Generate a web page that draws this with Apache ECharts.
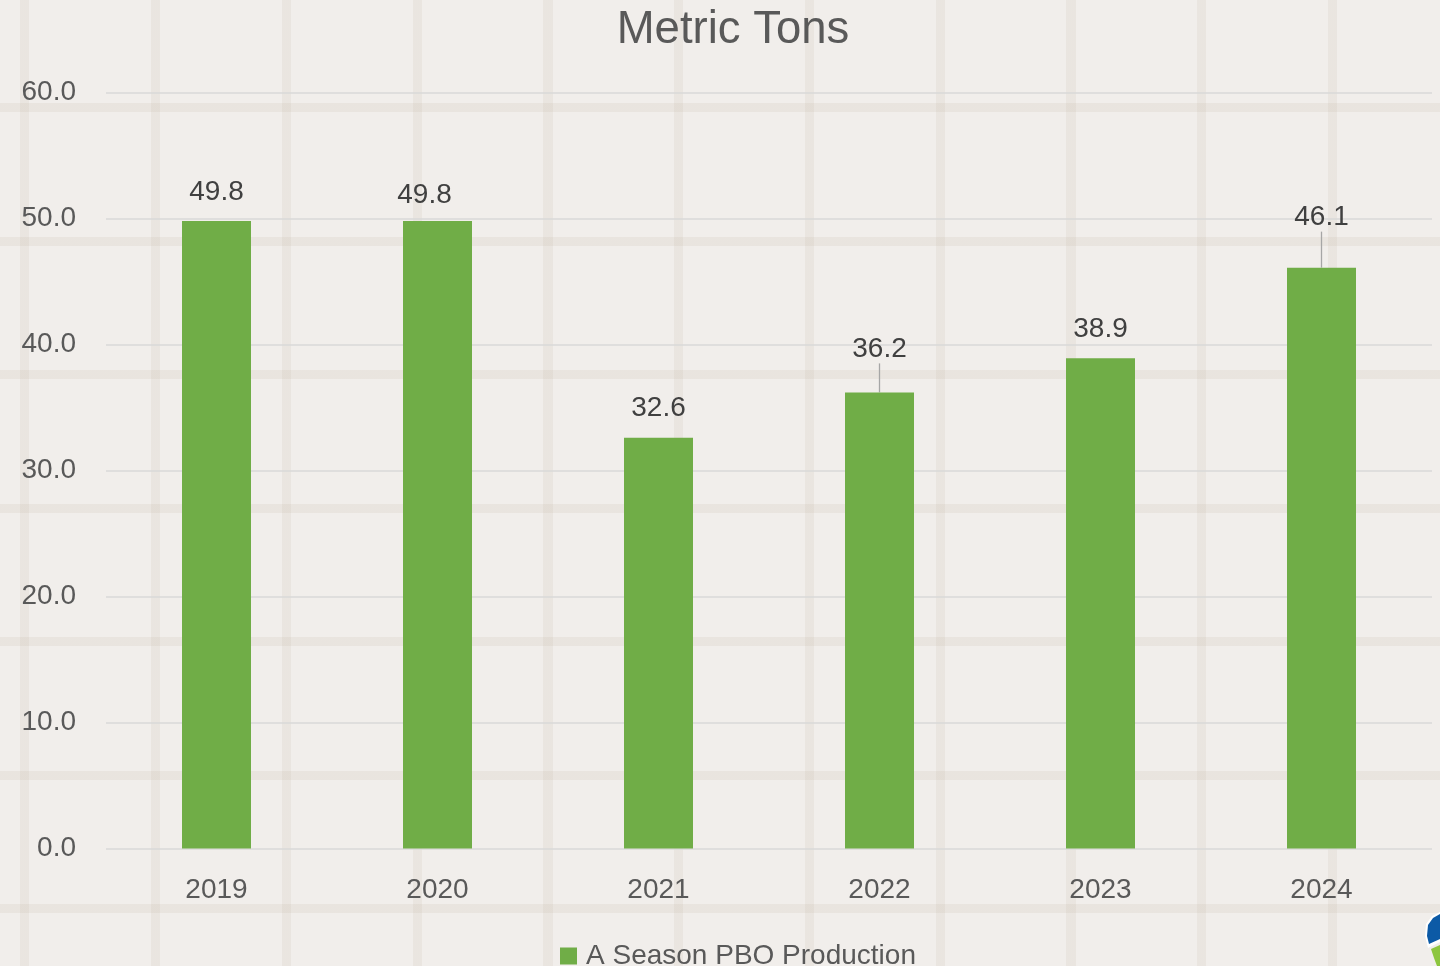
<!DOCTYPE html>
<html>
<head>
<meta charset="utf-8">
<script src="https://cdn.jsdelivr.net/npm/echarts@6/dist/echarts.min.js"></script>
<style>
  html, body {
    margin: 0;
    padding: 0;
    width: 1440px;
    height: 966px;
    overflow: hidden;
  }
  #chart {
    width: 1440px;
    height: 966px;
    background-color: #f1eeeb;
    background-image:
      repeating-linear-gradient(90deg, transparent 0 20.5px, rgba(185, 170, 150, 0.13) 20.5px 29.5px, transparent 29.5px 130.75px),
      repeating-linear-gradient(180deg, transparent 0 103.5px, rgba(185, 170, 150, 0.14) 103.5px 112.5px, transparent 112.5px 133.5px);
  }
</style>
</head>
<body>
<div id="chart"></div>
<script>
  // values
  var years = ["2019", "2020", "2021", "2022", "2023", "2024"];
  var production = [49.8, 49.8, 32.6, 36.2, 38.9, 46.1];
  var seriesName = "A Season PBO Production";
  var yMin = 0;
  var yMax = 60;
  var yStep = 10;

  var font = "'Liberation Sans', Arial, sans-serif";

  var chart = echarts.init(document.getElementById("chart"));

  // a few labels were nudged by hand in the original; 2022 and 2024 get a leader line
  var labelMoves = {
    1: { dx: -13, dy: 3 },
    3: { dy: -14 },
    5: { dy: -21 }
  };
  var withLine = { 3: true, 5: true };

  var option = {
    animation: false,
    backgroundColor: "transparent",
    title: {
      text: "Metric Tons",
      left: 728,
      top: 2,
      textAlign: "center",
      textStyle: {
        fontFamily: font,
        fontSize: 45.5,
        fontWeight: "normal",
        color: "#595959"
      }
    },
    legend: {
      left: 555,
      top: 937,
      icon: "rect",
      itemWidth: 17,
      itemHeight: 17,
      itemGap: 8,
      textStyle: {
        fontFamily: font,
        fontSize: 28,
        color: "#595959",
        padding: [0, 0, 0, 4]
      },
      data: [seriesName]
    },
    grid: {
      left: 106,
      right: 8,
      top: 92.5,
      bottom: 117.5,
      containLabel: false
    },
    xAxis: {
      type: "category",
      data: years,
      axisLine: { show: false },
      axisTick: { show: false },
      axisLabel: {
        margin: 28,
        fontFamily: font,
        fontSize: 28,
        color: "#595959"
      }
    },
    yAxis: {
      type: "value",
      min: yMin,
      max: yMax,
      interval: yStep,
      axisLine: { show: false },
      axisTick: { show: false },
      splitLine: {
        lineStyle: { color: "#d9d9d9", width: 1.5 }
      },
      axisLabel: {
        margin: 30,
        padding: [4, 0, 0, 0],
        fontFamily: font,
        fontSize: 28,
        color: "#595959",
        formatter: function (v) { return v.toFixed(1); }
      }
    },
    series: [
      {
        name: seriesName,
        type: "bar",
        barWidth: 69,
        itemStyle: { color: "#70ad47" },
        label: {
          show: true,
          position: "top",
          distance: 15,
          fontFamily: font,
          fontSize: 28,
          color: "#404040",
          formatter: function (p) { return p.value.toFixed(1); }
        },
        labelLine: {
          show: true,
          lineStyle: { color: "#a6a6a6", width: 1.3 }
        },
        labelLayout: function (p) {
          return labelMoves[p.dataIndex] || {};
        },
        data: production.map(function (v, i) {
          return { value: v, labelLine: { show: !!withLine[i] } };
        })
      }
    ],
    graphic: [
      {
        type: "polygon",
        shape: { points: [[1440, 912], [1432, 916], [1426, 924], [1425, 936], [1428, 948], [1440, 942]] },
        style: { fill: "#ffffff" }
      },
      {
        type: "polygon",
        shape: { points: [[1440, 914], [1433, 918], [1428, 925], [1427, 936], [1429, 944], [1440, 939]] },
        style: { fill: "#0c5aa6" }
      },
      {
        type: "polygon",
        shape: { points: [[1440, 945], [1431, 949], [1434, 958], [1437, 966], [1440, 966]] },
        style: { fill: "#8dc63f" }
      }
    ]
  };

  chart.setOption(option);
</script>
</body>
</html>
